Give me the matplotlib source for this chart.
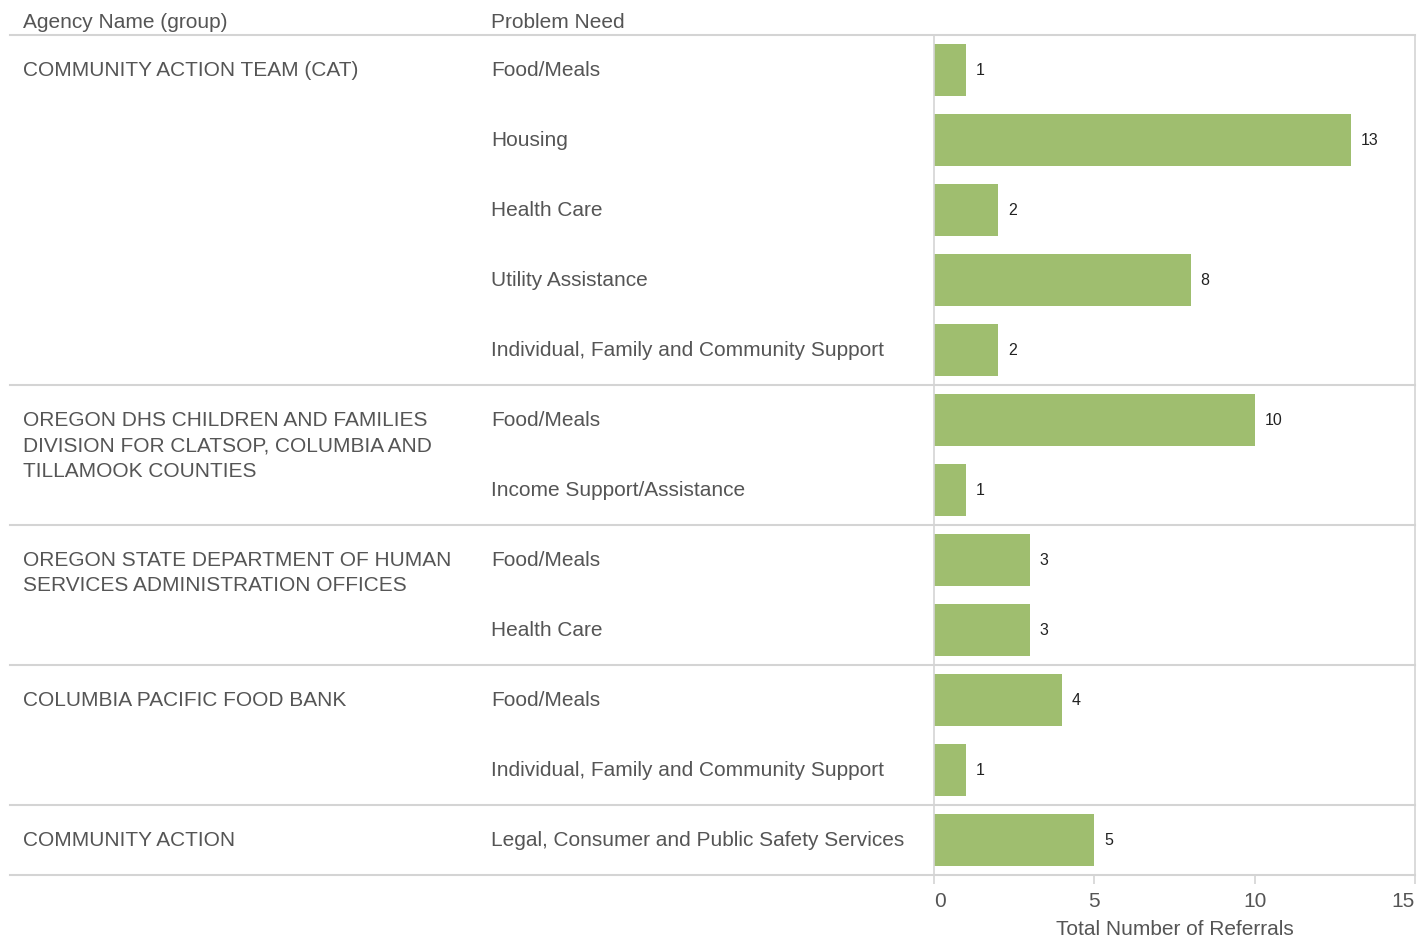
import matplotlib.pyplot as plt
import matplotlib.transforms as mtransforms

plt.rcParams['font.family'] = ['Liberation Sans', 'DejaVu Sans']

# data
agencies = [
    "COMMUNITY ACTION TEAM (CAT)",
    "OREGON DHS CHILDREN AND FAMILIES\nDIVISION FOR CLATSOP, COLUMBIA AND\nTILLAMOOK COUNTIES",
    "OREGON STATE DEPARTMENT OF HUMAN\nSERVICES ADMINISTRATION OFFICES",
    "COLUMBIA PACIFIC FOOD BANK",
    "COMMUNITY ACTION",
]
group_sizes = [5, 2, 2, 2, 1]
needs = [
    "Food/Meals", "Housing", "Health Care", "Utility Assistance",
    "Individual, Family and Community Support",
    "Food/Meals", "Income Support/Assistance",
    "Food/Meals", "Health Care",
    "Food/Meals", "Individual, Family and Community Support",
    "Legal, Consumer and Public Safety Services",
]
referrals = [1, 13, 2, 8, 2, 10, 1, 3, 3, 4, 1, 5]
x_ticks = [0, 5, 10, 15]

W, H = 1428, 938
fig = plt.figure(figsize=(W / 100, H / 100), dpi=100)
ax = fig.add_axes([934 / W, (H - 875) / H, (1415 - 934) / W, (875 - 35) / H])

text_col = '#555555'
line_col = '#d4d4d4'
bar_col = '#9fbe6f'

rows = list(range(len(needs)))
ax.barh(rows, referrals, height=0.74, color=bar_col, zorder=2)
for r, v in zip(rows, referrals):
    ax.annotate(str(v), (v, r), xytext=(7, 0), textcoords='offset points',
                va='center', ha='left', fontsize=11.5, color='#222222')

ax.set_xlim(0, 15)
ax.set_ylim(len(needs) - 0.5, -0.5)
ax.set_yticks([])
ax.set_xticks(x_ticks)
ax.set_xticklabels([str(t) for t in x_ticks], fontsize=15, color=text_col)
labels = ax.get_xticklabels()
labels[0].set_horizontalalignment('left')
labels[-1].set_horizontalalignment('right')
ax.tick_params(axis='x', length=6.5, width=1.2, color=line_col, pad=6)
ax.set_xlabel("Total Number of Referrals", fontsize=15, color=text_col, labelpad=6)

for side in ['top', 'bottom', 'left', 'right']:
    ax.spines[side].set_color(line_col)
    ax.spines[side].set_linewidth(1.2)
ax.spines['top'].set_visible(False)
ax.spines['bottom'].set_visible(False)

blend = mtransforms.blended_transform_factory(fig.transFigure, ax.transData)

# group separator lines
bounds = [-0.5]
for g in group_sizes:
    bounds.append(bounds[-1] + g)
for b in bounds:
    ax.plot([10 / W, 1415 / W], [b, b], transform=blend, color=line_col,
            lw=1.5, clip_on=False, zorder=3)

# row labels
start = 0
for name, g in zip(agencies, group_sizes):
    for i, line in enumerate(name.split('\n')):
        ax.text(23 / W, start + i * 0.365, line, transform=blend, ha='left',
                va='center', fontsize=15, color=text_col)
    start += g
for r, n in zip(rows, needs):
    ax.text(491 / W, r, n, transform=blend, ha='left', va='center',
            fontsize=15, color=text_col)

# column headers
fig.text(23 / W, 1 - 22 / H, "Agency Name (group)", ha='left', va='center',
         fontsize=15, color=text_col)
fig.text(491 / W, 1 - 22 / H, "Problem Need", ha='left', va='center',
         fontsize=15, color=text_col)

fig.savefig('out.png', dpi=100)
